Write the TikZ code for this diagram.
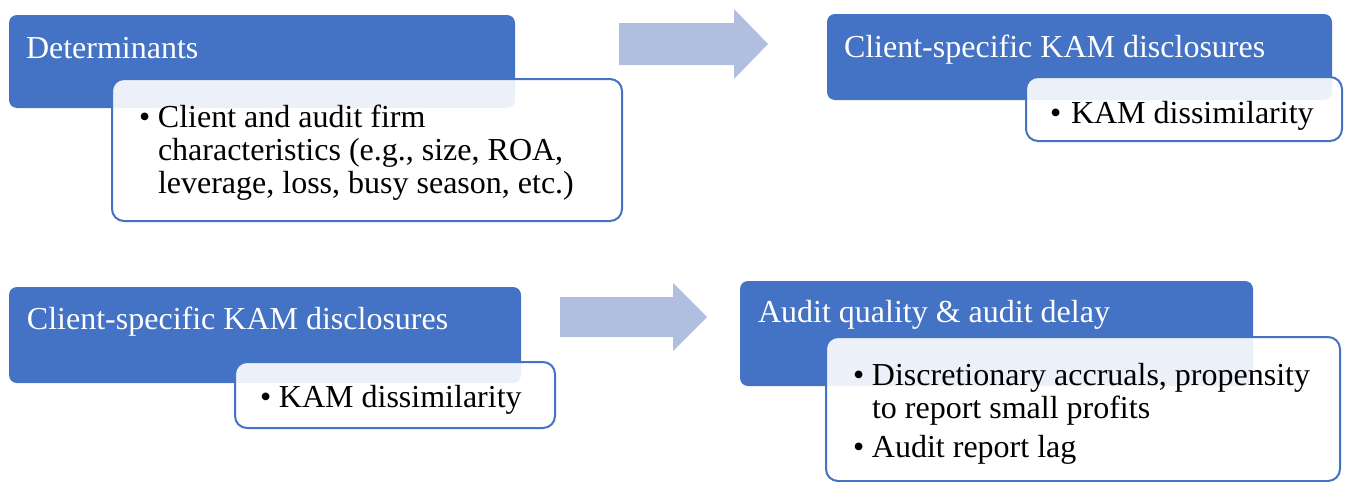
\documentclass[tikz,border=0pt]{standalone}
\usepackage{fontspec}
\setmainfont{Liberation Serif}
\usetikzlibrary{positioning}
\definecolor{kamblue}{HTML}{4472C4}
\definecolor{kamarrow}{HTML}{B0BEE0}
\newcommand{\kambullet}{\makebox[19pt][l]{\textbullet}}

\begin{document}
\begin{tikzpicture}[x=1pt,y=-1pt,
    every node/.style={inner sep=0pt,outer sep=0pt},
    headbox/.style={fill=kamblue,rounded corners=8pt,anchor=north west},
    listbox/.style={draw=kamblue,line width=2pt,fill=white,fill opacity=.9,
      rounded corners=12pt,anchor=north west},
    headtext/.style={anchor=base west,text=white,font=\fontsize{32}{33}\selectfont},
    listtext/.style={anchor=base west,text=black,font=\fontsize{32}{33}\selectfont},
    blockarrow/.style={fill=kamarrow}]
  \useasboundingbox (0,0) rectangle (1347,482);

  % upper row: determinants -> KAM disclosures
  \node[headbox,minimum width=506pt,minimum height=93pt] (det) at (9,15) {};
  \node[headtext] (dettitle) at (26,58) {Determinants};
  \node[listbox,minimum width=510pt,minimum height=142pt] (detlist) at (112,79) {};
  \node[listtext] (detitems) at (139,127) {\begin{tabular}[t]{@{}l@{}l@{}}
      \kambullet & Client and audit firm\\
      & characteristics (e.g., size, ROA,\\
      & leverage, loss, busy season, etc.)\end{tabular}};

  \fill[blockarrow] (619,23) -- (734,23) -- (734,9) -- (768,44)
    -- (734,79) -- (734,65) -- (619,65) -- cycle;

  \node[headbox,minimum width=505pt,minimum height=86pt] (kamtop) at (827,14) {};
  \node[headtext] (kamtoptitle) at (844,57) {Client-specific KAM disclosures};
  \node[listbox,minimum width=316pt,minimum height=64pt] (kamtoplist) at (1026,77) {};
  \node[listtext] (kamtopitems) at (1050,123) {\kambullet\hspace{2pt}KAM dissimilarity};

  % lower row: KAM disclosures -> audit quality
  \node[headbox,minimum width=512pt,minimum height=96pt] (kambot) at (9,287) {};
  \node[headtext] (kambottitle) at (27,329) {Client-specific KAM disclosures};
  \node[listbox,minimum width=320pt,minimum height=66pt] (kambotlist) at (235,362) {};
  \node[listtext] (kambotitems) at (260,407) {\kambullet KAM dissimilarity};

  \fill[blockarrow] (560,297) -- (673,297) -- (673,283) -- (707,317)
    -- (673,351) -- (673,337) -- (560,337) -- cycle;

  \node[headbox,minimum width=513pt,minimum height=105pt] (aq) at (740,281) {};
  \node[headtext] (aqtitle) at (758,322) {Audit quality \& audit delay};
  \node[listbox,minimum width=514pt,minimum height=144pt] (aqlist) at (826,337) {};
  \node[listtext] (aqitems) at (853,385) {\begin{tabular}[t]{@{}l@{}l@{}}
      \kambullet & Discretionary accruals, propensity\\
      & to report small profits\\[6pt]
      \kambullet & Audit report lag\end{tabular}};
\end{tikzpicture}
\end{document}
